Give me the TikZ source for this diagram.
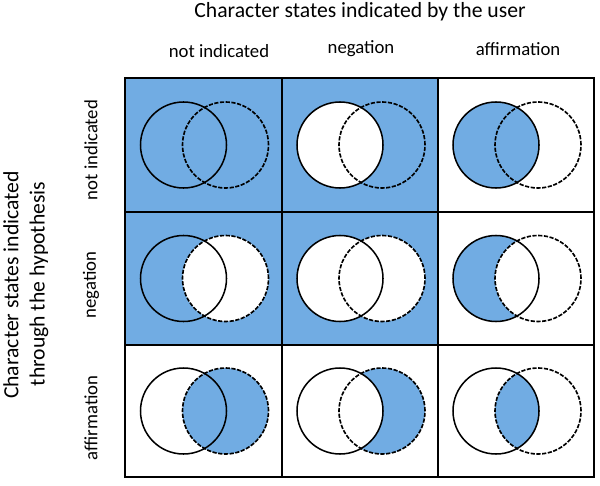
\documentclass[tikz,border=0pt]{standalone}
\usepackage{fontspec}
\setmainfont{Carlito}
\definecolor{vblue}{RGB}{113,172,227}
\begin{document}
\begin{tikzpicture}[x=0.03cm,y=-0.03cm,
  titletext/.style={font=\fontsize{18.5}{22}\selectfont, inner sep=0},
  headtext/.style={font=\fontsize{16}{19}\selectfont, inner sep=0},
  bluebg/.style={fill=vblue},
  whitebg/.style={fill=white},
  solidc/.style={draw=black, line width=1.3pt},
  dashc/.style={draw=black, line width=1.4pt, dash pattern=on 3.6pt off 1.3pt},
  gridline/.style={draw=black, line width=1.2pt}]
\useasboundingbox (0,0) rectangle (600,486);
% titles
\node[titletext] (toptitle) at (360,12) {Character states indicated by the user};
\node[titletext, rotate=90] (lefttitle1) at (11,285) {Character states indicated};
\node[titletext, rotate=90] (lefttitle2) at (39,284) {through the hypothesis};
% column headers
\node[headtext] (c1) at (219,51) {not indicated};
\node[headtext] (c2) at (361,49) {negation};
\node[headtext] (c3) at (518,49) {affirmation};
% row headers
\node[headtext, rotate=90] (r1) at (91,150) {not indicated};
\node[headtext, rotate=90] (r2) at (91,285) {negation};
\node[headtext, rotate=90] (r3) at (91,418) {affirmation};
% cell backgrounds
\fill[bluebg] (125,78) rectangle (438,345);
\fill[whitebg] (438,78) rectangle (594,345);
\fill[whitebg] (125,345) rectangle (594,477);
% row 1
\fill[white] (340,145) circle[radius=1.29cm];
\fill[vblue] (496,145) circle[radius=1.29cm];
% row 2
\fill[white] (225.5,278.5) circle[radius=1.29cm];
\fill[white] (340,278.5) circle[radius=1.29cm];
\fill[white] (382,278.5) circle[radius=1.29cm];
\fill[vblue] (496,278.5) circle[radius=1.29cm];
\fill[white] (538,278.5) circle[radius=1.29cm];
% row 3
\fill[vblue] (225.5,411) circle[radius=1.29cm];
\fill[vblue] (382,411) circle[radius=1.29cm];
\fill[white] (340,411) circle[radius=1.29cm];
\begin{scope}
  \clip (496,411) circle[radius=1.29cm];
  \fill[vblue] (538,411) circle[radius=1.29cm];
\end{scope}
% circle outlines
\foreach \cx in {183.5,340,496}{
  \foreach \cy in {145,278.5,411}{
    \draw[solidc] (\cx,\cy) circle[radius=1.29cm];
    \draw[dashc] (\cx+42,\cy) circle[radius=1.29cm];
  }
}
% grid
\foreach \gx in {282,438}{ \draw[gridline] (\gx,78) -- (\gx,477); }
\foreach \gy in {212,345}{ \draw[gridline] (125,\gy) -- (594,\gy); }
\draw[gridline] (125,78) rectangle (594,477);
\end{tikzpicture}
\end{document}
